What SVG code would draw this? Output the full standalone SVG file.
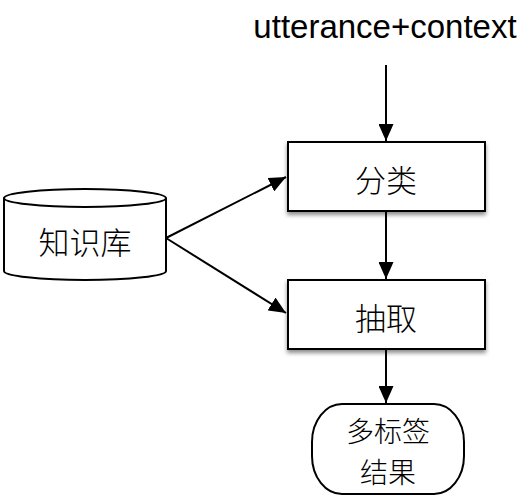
<svg xmlns="http://www.w3.org/2000/svg" width="525" height="499" viewBox="0 0 525 499">
<style>
.s{fill:#fff;stroke:#000;stroke-width:2}
.l{fill:none;stroke:#000;stroke-width:2}
.t{font-family:"Noto Sans CJK SC","Noto Sans",sans-serif;font-size:31px;font-weight:300;fill:#000;text-anchor:middle;dominant-baseline:central}
.r{font-size:28px}
.e{font-family:"Liberation Sans",Arial,sans-serif;font-size:33px;fill:#000;text-anchor:middle}
</style>
<defs>
<marker id="a" viewBox="0 0 17 15" refX="17" refY="7.5" markerWidth="17" markerHeight="15" markerUnits="userSpaceOnUse" orient="auto"><path d="M0,0L17,7.5L0,15Z" fill="#000"/></marker>
<filter id="sh" x="-10%" y="-10%" width="130%" height="140%"><feDropShadow dx="0" dy="3" stdDeviation="2" flood-color="#000" flood-opacity="0.45"/></filter>
</defs>
<text class="e" x="385" y="38">utterance+context</text>
<g id="kb">
<path class="s" d="M4,198 L4,271 A81,9 0 0 0 166,271 L166,198"/>
<ellipse class="s" cx="85" cy="198" rx="81" ry="9"/>
<text class="t" x="85" y="240">知识库</text>
</g>
<g id="classify">
<rect class="s" x="288" y="142" width="197" height="69" filter="url(#sh)"/>
<text class="t" x="386" y="178">分类</text>
</g>
<g id="extract">
<rect class="s" x="288" y="280" width="197" height="69" filter="url(#sh)"/>
<text class="t" x="386" y="316">抽取</text>
</g>
<g id="result">
<rect class="s" x="312" y="404" width="152" height="90" rx="30" ry="38"/>
<text class="t r" x="388" y="430">多标签</text>
<text class="t r" x="388" y="471">结果</text>
</g>
<g id="connectors">
<line class="l" x1="386" y1="65" x2="386" y2="141" marker-end="url(#a)"/>
<line class="l" x1="386" y1="212" x2="386" y2="279" marker-end="url(#a)"/>
<line class="l" x1="386" y1="350" x2="386" y2="403" marker-end="url(#a)"/>
<line class="l" x1="166" y1="238" x2="286" y2="177" marker-end="url(#a)"/>
<line class="l" x1="166" y1="238" x2="286" y2="313" marker-end="url(#a)"/>
</g>
</svg>
